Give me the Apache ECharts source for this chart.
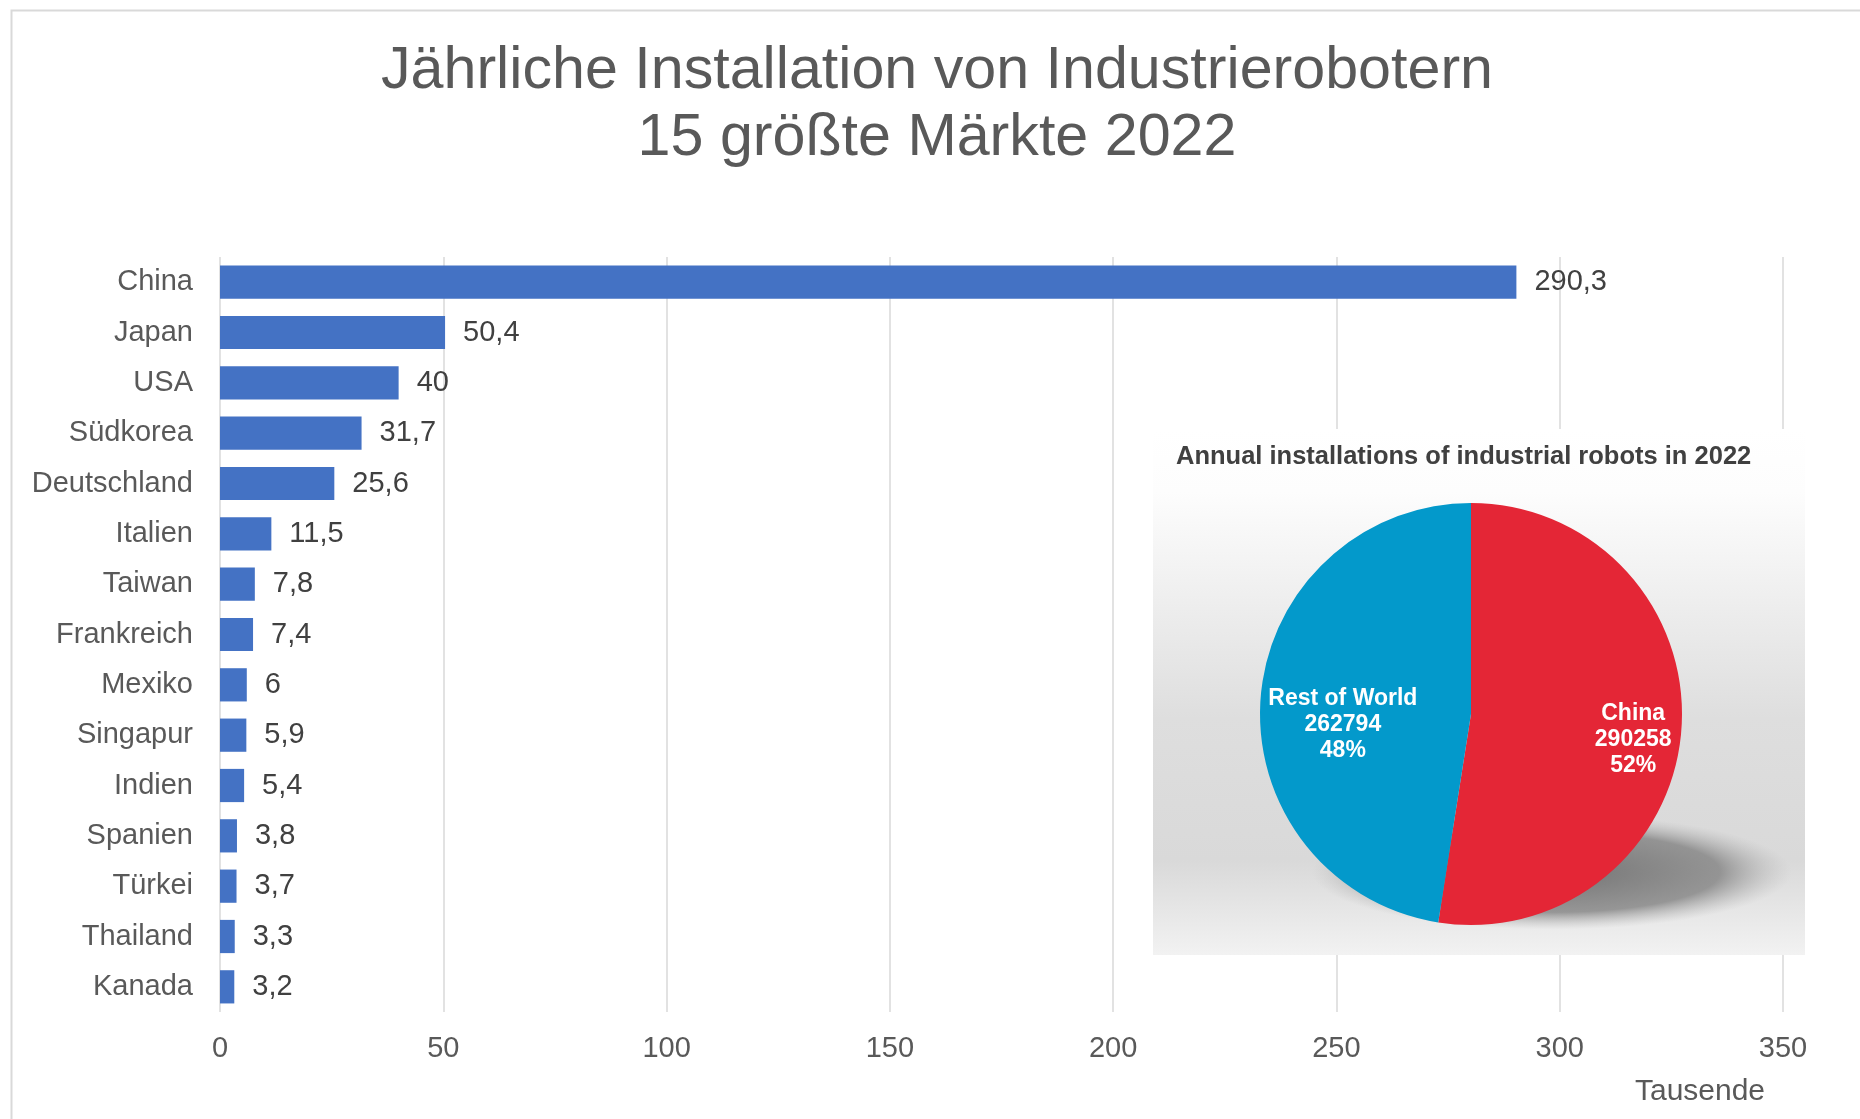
<!DOCTYPE html>
<html>
<head>
<meta charset="utf-8">
<script src="https://cdn.jsdelivr.net/npm/echarts@6/dist/echarts.min.js"></script>
<style>
html,body{margin:0;padding:0;background:#fff;}
#chart{width:1860px;height:1119px;}
</style>
</head>
<body>
<div id="chart"></div>
<script>
// ---- data ----
const categories = ['China','Japan','USA','Südkorea','Deutschland','Italien','Taiwan','Frankreich','Mexiko','Singapur','Indien','Spanien','Türkei','Thailand','Kanada'];
const values = [290.3, 50.4, 40, 31.7, 25.6, 11.5, 7.8, 7.4, 6, 5.9, 5.4, 3.8, 3.7, 3.3, 3.2];
const pieNames = ['China', 'Rest of World'];
const pieValues = [290258, 262794];
const titleText = 'Jährliche Installation von Industrierobotern\n15 größte Märkte 2022';
const insetTitle = 'Annual installations of industrial robots in 2022';
const axisName = 'Tausende';

const FONT = '"Liberation Sans", Arial, sans-serif';
const pieColors = ['#E42636', '#0399CB'];
const pieLabelOffsets = [[54, 17], [-20, 19]];

const chart = echarts.init(document.getElementById('chart'));
const option = {
  backgroundColor: '#ffffff',
  animation: false,
  title: {
    text: titleText,
    left: 937,
    textAlign: 'center',
    top: 38,
    padding: 0,
    textStyle: { fontFamily: FONT, fontSize: 59.2, fontWeight: 'normal', color: '#595959', lineHeight: 67 }
  },
  grid: { left: 220, right: 77, top: 257, bottom: 107, containLabel: false },
  xAxis: {
    type: 'value',
    min: 0, max: 350, interval: 50,
    axisLine: { show: false },
    axisTick: { show: false },
    splitLine: { show: true, lineStyle: { color: '#d9d9d9', width: 1.5 } },
    axisLabel: { fontFamily: FONT, fontSize: 29, color: '#595959', margin: 22 }
  },
  yAxis: {
    type: 'category',
    data: categories,
    inverse: true,
    axisLine: { show: false },
    axisTick: { show: false },
    axisLabel: { fontFamily: FONT, fontSize: 29, color: '#595959', margin: 27 }
  },
  graphic: [
    { type: 'rect', z: 10, silent: true, left: 9, top: 8,
      shape: { width: 1870, height: 1130 },
      style: { fill: 'none', stroke: '#d9d9d9', lineWidth: 2 } },
    { type: 'text', z: 10, silent: true, x: 1700, y: 1092,
      style: { text: axisName, font: '30px ' + FONT, fill: '#595959', textAlign: 'center', textVerticalAlign: 'middle' } },
    { type: 'rect', z: 10, silent: true, left: 1153, top: 429,
      shape: { width: 652, height: 526 },
      style: { fill: new echarts.graphic.LinearGradient(0, 0, 0, 1, [
        { offset: 0, color: '#ffffff' },
        { offset: 0.12, color: '#fdfdfd' },
        { offset: 0.55, color: '#dedede' },
        { offset: 0.82, color: '#d9d9d9' },
        { offset: 1, color: '#f2f2f2' }
      ]) } },
    { type: 'circle', z: 11, silent: true,
      x: 1552, y: 872, scaleX: 1, scaleY: 0.24,
      shape: { cx: 0, cy: 0, r: 240 },
      style: { fill: new echarts.graphic.RadialGradient(0.5, 0.5, 0.5, [
        { offset: 0, color: 'rgba(110,110,110,0.95)' },
        { offset: 0.7, color: 'rgba(130,130,130,0.8)' },
        { offset: 1, color: 'rgba(180,180,180,0)' }
      ]) } },
    { type: 'text', z: 12, silent: true, left: 1176, top: 444,
      style: { text: insetTitle, font: 'bold 25.5px ' + FONT, fill: '#404040' } }
  ],
  series: [
    {
      type: 'bar',
      data: values,
      barWidth: '66%',
      itemStyle: { color: '#4472C4' },
      label: {
        show: true, position: 'right', distance: 18,
        fontFamily: FONT, fontSize: 29, color: '#404040',
        formatter: p => String(p.value).replace('.', ',')
      },
      z: 2
    },
    {
      type: 'pie',
      z: 20,
      center: [1471, 714],
      radius: 211,
      startAngle: 90,
      clockwise: true,
      percentPrecision: 0,
      silent: true,
      data: pieNames.map((n, i) => ({
        name: n, value: pieValues[i],
        itemStyle: { color: pieColors[i] },
        label: { offset: pieLabelOffsets[i] }
      })),
      label: {
        show: true, position: 'inside',
        formatter: '{b}\n{c}\n{d}%',
        fontFamily: FONT, fontWeight: 'bold', fontSize: 23, lineHeight: 26, color: '#ffffff', align: 'center'
      },
      labelLine: { show: false }
    }
  ]
};
chart.setOption(option);
</script>
</body>
</html>
